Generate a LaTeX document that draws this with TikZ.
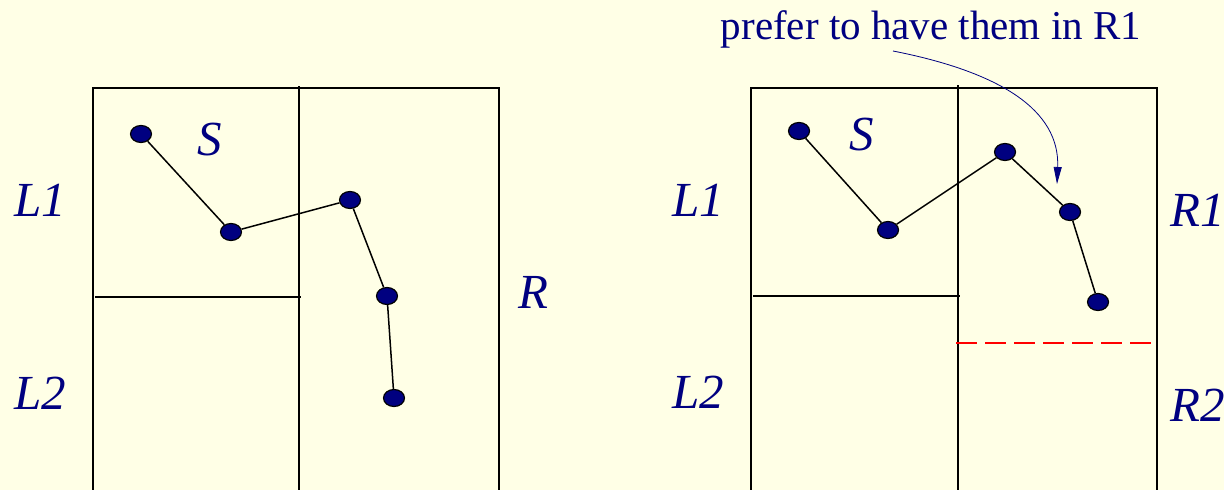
\documentclass[tikz,border=0pt]{standalone}
\usepackage{fontspec}
\setmainfont{Liberation Serif}
\usetikzlibrary{shapes.geometric,arrows.meta}
\definecolor{bg}{RGB}{255,255,230}
\definecolor{navy}{RGB}{0,0,128}
\tikzset{
  pt/.style={ellipse,draw=black,line width=1.2pt,fill=navy,minimum width=21pt,minimum height=17pt,inner sep=0pt},
  edge/.style={draw=black,line width=1.5pt},
  frame/.style={draw=black,line width=1.5pt},
  lab/.style={text=navy,font=\fontsize{49}{58}\selectfont\itshape,inner sep=0pt},
  note/.style={text=navy,font=\fontsize{41}{48}\selectfont,inner sep=0pt}
}
\begin{document}
\begin{tikzpicture}[x=1pt,y=-1pt]
\fill[bg] (0,0) rectangle (1224,490);
\useasboundingbox (0,0) rectangle (1224,490);
% left figure
\draw[frame] (93,492) -- (93,88) -- (499,88) -- (499,492);
\draw[frame] (299,86) -- (299,492);
\draw[frame] (95,297) -- (301,297);
\node[pt] (a1) at (141,134) {};
\node[pt] (a2) at (231,232) {};
\node[pt] (a3) at (350,200) {};
\node[pt] (a4) at (387,296) {};
\node[pt] (a5) at (394,398) {};
\draw[edge] (a1) -- (a2) -- (a3) -- (a4) -- (a5);
\node[lab] (l1a) at (40,200) {L1};
\node[lab] (l2a) at (40,393) {L2};
\node[lab] (sa) at (210,140) {S};
\node[lab] (ra) at (533,292) {R};
% right figure
\draw[frame] (751,492) -- (751,88) -- (1157,88) -- (1157,492);
\draw[frame] (958,85) -- (958,492);
\draw[frame] (753,296) -- (960,296);
\draw[red,line width=1.5pt,dash pattern=on 21pt off 8pt] (956,343) -- (1151,343);
\node[pt] (b1) at (799,131) {};
\node[pt] (b2) at (888,230) {};
\node[pt] (b3) at (1005,152) {};
\node[pt] (b4) at (1070,212) {};
\node[pt] (b5) at (1098,302) {};
\draw[edge] (b1) -- (b2) -- (b3) -- (b4) -- (b5);
\node[lab] (l1b) at (698,200) {L1};
\node[lab] (l2b) at (698,392) {L2};
\node[lab] (sb) at (862,135) {S};
\node[lab] (r1) at (1198,210) {R1};
\node[lab] (r2) at (1198,405) {R2};
\node[note] (pref) at (931,29) {prefer to have them in R1};
\coordinate (tip) at (1057,184);
\draw[navy,line width=0.8pt,-{Triangle[width=8pt,length=17pt]}] (893,51) .. controls (1000,72) and (1060,110) .. (tip);
\end{tikzpicture}
\end{document}
